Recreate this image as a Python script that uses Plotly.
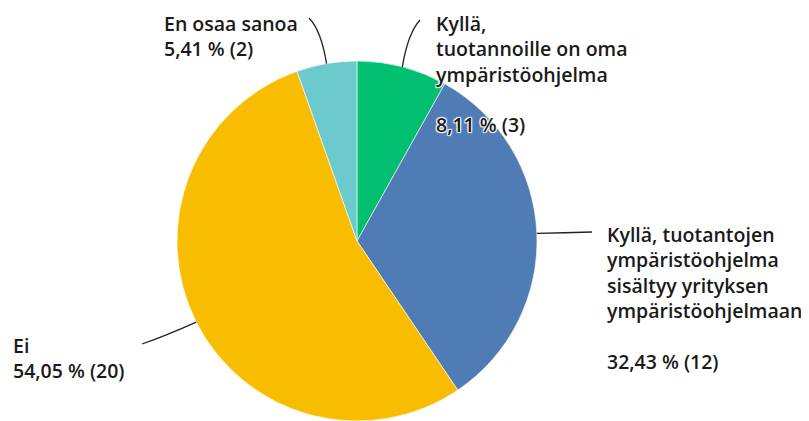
import math
import plotly.graph_objects as go

labels = ["Kyllä,<br>tuotannoille on oma<br>ympäristöohjelma",
          "Kyllä, tuotantojen<br>ympäristöohjelma<br>sisältyy yrityksen<br>ympäristöohjelmaan",
          "Ei",
          "En osaa sanoa"]
counts = [3, 12, 20, 2]
pct_text = ["8,11 % (3)", "32,43 % (12)", "54,05 % (20)", "5,41 % (2)"]
colors = ["#00BF6F", "#507CB5", "#F8BD00", "#6CC9CC"]

W, H = 809, 421
OFF = 8  # page offset of the figure inside the browser window
CX, CY, R = 357, 241, 180  # pie center/radius in page pixels


def px(x, y):
    return (x - OFF) / W, 1 - (y - OFF) / H


fig = go.Figure(go.Pie(
    values=counts, labels=[l.replace("<br>", " ") for l in labels],
    sort=False, direction="clockwise", rotation=0,
    marker=dict(colors=colors, line=dict(color="white", width=0.6)),
    textinfo="none", hoverinfo="label+percent", showlegend=False,
    domain=dict(x=[(CX - R - OFF) / W, (CX + R - OFF) / W],
                y=[1 - (CY + R - OFF) / H, 1 - (CY - R - OFF) / H]),
))

total = sum(counts)
cum = 0
edge = []
for c in counts:
    mid = (cum + c / 2) / total * 2 * math.pi
    edge.append((CX + R * math.sin(mid), CY - R * math.cos(mid)))
    cum += c

# leader lines (curves from slice edge to label)
ends = [((408, 33), (420, 20)),
        ((565, 233), (592, 232)),
        ((165, 336), (142, 344)),
        ((321, 30), (309, 18))]
shapes = []
for (sx, sy), ((qx, qy), (ex, ey)) in zip(edge, ends):
    a = px(sx, sy); q = px(qx, qy); e = px(ex, ey)
    shapes.append(dict(type="path", xref="paper", yref="paper",
                       path=f"M {a[0]},{a[1]} Q {q[0]},{q[1]} {e[0]},{e[1]}",
                       line=dict(color="#222222", width=1.3)))

font = dict(family="Open Sans", size=19.5, color="#1a1a1a", weight=600)
texts = [
    (labels[0] + "<br><br>" + pct_text[0], 434, 8),
    (labels[1] + "<br><br>" + pct_text[1], 605, 219),
    (labels[2] + "<br>" + pct_text[2], 11, 330),
    (labels[3] + "<br>" + pct_text[3], 162, 8),
]
annotations = []
for i, (t, x, y) in enumerate(texts):
    ax, ay = px(x, y)
    f = dict(font)
    if i == 0:
        f["shadow"] = "1px 1px 1px white, -1px -1px 1px white, 1px -1px 1px white, -1px 1px 1px white"
    annotations.append(dict(text=t, x=ax, y=ay, xref="paper", yref="paper",
                            xanchor="left", yanchor="top", align="left",
                            showarrow=False, font=f))

fig.update_layout(width=W, height=H, margin=dict(l=0, r=0, t=0, b=0),
                  paper_bgcolor="white", plot_bgcolor="white",
                  shapes=shapes, annotations=annotations)
fig.write_html("out.html")
